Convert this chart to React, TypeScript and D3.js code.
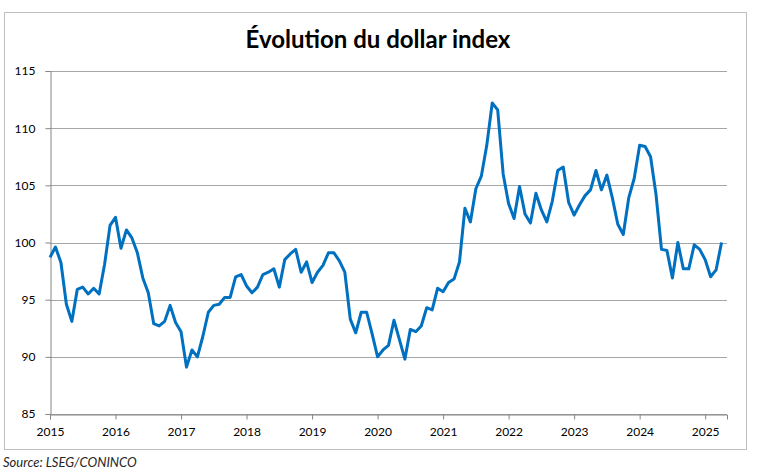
import { useEffect, useRef } from "react";
import * as d3 from "d3";

// monthly dollar index, Jan 2015 -> Apr 2025
const dxy = [
  98.7, 99.6, 98.25, 94.6, 93.1, 95.9, 96.1, 95.5, 96.0, 95.5, 98.1, 101.5,
  102.2, 99.5, 101.1, 100.4, 99.1, 96.9, 95.6, 92.9, 92.7, 93.1, 94.5, 93.0,
  92.2, 89.1, 90.6, 90.0, 91.8, 93.9, 94.5, 94.6, 95.2, 95.2, 97.0, 97.2,
  96.2, 95.6, 96.1, 97.2, 97.4, 97.7, 96.1, 98.5, 99.0, 99.4, 97.4, 98.3,
  96.5, 97.4, 98.0, 99.1, 99.1, 98.4, 97.4, 93.3, 92.1, 93.9, 93.9, 92.0,
  90.0, 90.6, 91.0, 93.2, 91.5, 89.8, 92.4, 92.2, 92.7, 94.3, 94.1, 96.0,
  95.7, 96.5, 96.8, 98.3, 103.0, 101.8, 104.7, 105.8, 108.5, 112.2, 111.6, 106.0,
  103.4, 102.1, 104.9, 102.5, 101.7, 104.3, 102.85, 101.8, 103.6, 106.3, 106.6, 103.5,
  102.4, 103.3, 104.1, 104.6, 106.3, 104.6, 105.9, 103.9, 101.6, 100.7, 103.9, 105.6,
  108.5, 108.4, 107.5, 104.2, 99.4, 99.3, 96.9, 100.0, 97.7, 97.7, 99.8, 99.4,
  98.5, 97.0, 97.6, 100.0,
];

const years = [2015, 2016, 2017, 2018, 2019, 2020, 2021, 2022, 2023, 2024, 2025];
const yTicks = [85, 90, 95, 100, 105, 110, 115];

const title = "Évolution du dollar index";
const source = "Source: LSEG/CONINCO";

export default function App() {
  const ref = useRef<SVGSVGElement>(null);

  useEffect(() => {
    if (!ref.current) return;
    const svg = d3.select(ref.current);
    svg.selectAll("*").remove();

    const width = 758;
    const height = 473;
    const margin = { top: 71, right: 31, bottom: 59, left: 50 };
    const innerWidth = width - margin.left - margin.right;
    const innerHeight = height - margin.top - margin.bottom;
    const font = "Lato, 'Liberation Sans', sans-serif";

    // chart frame
    svg
      .append("rect")
      .attr("x", 4.5)
      .attr("y", 12.5)
      .attr("width", 742)
      .attr("height", 437)
      .attr("fill", "#fff")
      .attr("stroke", "#bfbfbf");

    svg
      .append("text")
      .attr("x", 378)
      .attr("y", 48)
      .attr("text-anchor", "middle")
      .style("font-family", font)
      .style("font-size", "24px")
      .style("font-weight", "bold")
      .style("fill", "#000")
      .text(title);

    svg
      .append("text")
      .attr("x", 3)
      .attr("y", 467)
      .style("font-family", font)
      .style("font-size", "13px")
      .style("font-style", "italic")
      .style("fill", "#262626")
      .text(source);

    const g = svg
      .append("g")
      .attr("transform", `translate(${margin.left},${margin.top})`);

    // month index on x, one tick per January
    const x = d3
      .scaleLinear()
      .domain([0, (years.length - 1) * 12 + 4])
      .range([0, innerWidth]);

    const y = d3.scaleLinear().domain([85, 115]).range([innerHeight, 0]);

    // gridlines
    g.selectAll("line.grid")
      .data(yTicks)
      .join("line")
      .attr("class", "grid")
      .attr("x1", 0)
      .attr("x2", innerWidth)
      .attr("y1", (d) => Math.round(y(d)) + 0.5)
      .attr("y2", (d) => Math.round(y(d)) + 0.5)
      .attr("stroke", "#a6a6a6")
      .attr("stroke-width", 1);

    // y axis
    const yAxis = g
      .append("g")
      .attr("transform", "translate(0.5,0)")
      .call(
        d3
          .axisLeft(y)
          .tickValues(yTicks)
          .tickSize(5)
          .tickPadding(10)
          .tickFormat(d3.format("d"))
      );
    yAxis.select(".domain").attr("stroke", "#868686");
    yAxis.selectAll(".tick line").attr("stroke", "#868686");
    yAxis
      .selectAll("text")
      .style("font-family", font)
      .style("font-size", "12px")
      .style("fill", "#000");

    // x axis
    const xAxis = g
      .append("g")
      .attr("transform", `translate(0,${Math.round(innerHeight) + 0.5})`)
      .call(
        d3
          .axisBottom(x)
          .tickValues(years.map((_, i) => i * 12))
          .tickSize(5)
          .tickPadding(8)
          .tickFormat((_, i) => String(years[i]))
      );
    xAxis.select(".domain").attr("stroke", "#868686");
    xAxis.selectAll(".tick line").attr("stroke", "#868686");
    xAxis
      .selectAll("text")
      .style("font-family", font)
      .style("font-size", "12px")
      .style("fill", "#000");

    // line
    const line = d3
      .line<number>()
      .x((_, i) => x(i))
      .y((d) => y(d));

    g.append("path")
      .datum(dxy)
      .attr("d", line)
      .attr("fill", "none")
      .attr("stroke", "#0070c0")
      .attr("stroke-width", 3)
      .attr("stroke-linejoin", "round");
  }, []);

  return (
    <div style={{ position: "absolute", left: 0, top: 0 }}>
      <svg ref={ref} width={758} height={473} />
    </div>
  );
}
